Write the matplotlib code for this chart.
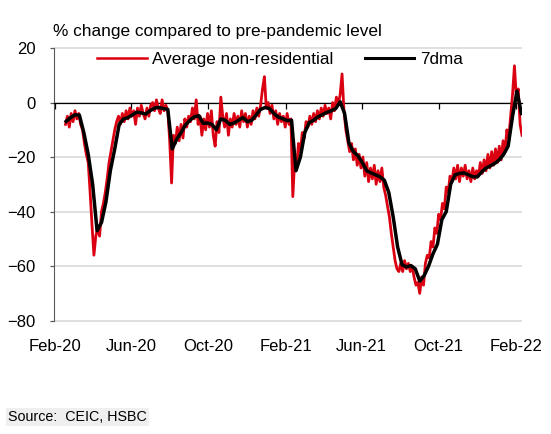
import numpy as np
import pandas as pd
import matplotlib
matplotlib.use("Agg")
import matplotlib.pyplot as plt
from matplotlib.lines import Line2D

plt.rcParams['font.family'] = ['Liberation Sans', 'DejaVu Sans']

# average non-residential mobility, sampled every 3 days from 18 Feb 2020
red = [
    -8, -5, -9, -4, -7, -3, -6, -4, -8, -10,
    -15, -19, -22, -33, -45, -56, -49, -46, -49, -40,
    -37, -33, -28, -22, -18, -14, -10, -7, -5, -8,
    -4, -7, -3, -6, -2, -5, -3, -8, -2, -5,
    -1, -4, -6, -2, -5, -1, 0, -3, 1, -2,
    -4, 1, -3, -1, -3, -14, -29.5, -12, -15, -9,
    -14, -8, -13, -6, -9, -5, -7, -2, -6, 1,
    -8, -5, -12, -6, -10, -4, -9, -3, -12, -16,
    -7, -11, 2, -5, -9, -4, -12, -6, -9, -4,
    -8, -5, -9, -3, -7, -4, -9, -5, -8, -3,
    -6, -2, -5, -1, 5, 9.5, -2, 0, -4, -1,
    -6, -3, -8, -4, -7, -5, -9, -4, -8, -6,
    -34.5, -21, -24, -15, -18, -11, -13, -7, -9, -5,
    -8, -4, -7, -3, -6, -2, -5, -1, -4, -2,
    -6, 0, -3, 2, -1, 3, 10.5, -3, -10, -14,
    -18, -15, -21, -17, -23, -19, -24, -20, -27, -22,
    -29, -24, -28, -23, -30, -25, -29, -24, -31, -34,
    -38, -42, -48, -53, -58, -61, -62, -59, -62, -58,
    -61, -59, -62, -60, -64, -67, -66, -70, -64, -67,
    -59, -56, -57, -51, -53, -46, -48, -41, -43, -37,
    -39, -31, -33, -27, -29, -24, -28, -23, -29, -24,
    -27, -23, -28, -25, -29, -24, -28, -25, -27, -22,
    -26, -21, -25, -19, -24, -18, -23, -17, -22, -16,
    -21, -14, -18, -10, -13, -5, 3, 13.5, 2, 5,
    -8, -12,
]

# 7-day moving average, weekly from 19 Feb 2020
dma = [
    -6.9, -5.5, -4.5, -4.6, -11, -19, -30, -47, -44, -36.5,
    -25, -17, -8, -6, -5.5, -4.5, -3.5, -3.8, -4.2, -3,
    -2, -1.8, -2.2, -2.5, -17, -13.5, -11, -8.2, -6.5, -5.2,
    -4.8, -7.6, -7.5, -8, -10, -6, -6.5, -8, -7.5, -6.5,
    -5.5, -7, -6.5, -4.5, -2.5, -1.8, -2.2, -4, -5.3, -5.9,
    -6.6, -6.5, -25, -20, -11, -7.3, -6.5, -5.2, -4.4, -3.6,
    -3, -2.2, 0.3, -4, -15, -18, -19.5, -22, -25, -25.8,
    -26.5, -27.2, -28.5, -33, -42, -53, -59.5, -60.3, -59.8, -61,
    -65.5, -63.5, -60, -55.5, -52, -43, -40, -30, -26.5, -26,
    -25.8, -26.5, -27.2, -27.3, -25.5, -24, -23.2, -22.3, -21, -19,
    -16, -5, 4.2, -4,
]

tick_dates = pd.to_datetime(['2020-02-01', '2020-06-01', '2020-10-01', '2021-02-01',
                             '2021-06-01', '2021-10-01', '2022-02-01'])
tick_labels = ['Feb-20', 'Jun-20', 'Oct-20', 'Feb-21', 'Jun-21', 'Oct-21', 'Feb-22']

red_dates = pd.date_range('2020-02-18', periods=len(red), freq='3D')
dma_dates = pd.date_range('2020-02-19', periods=len(dma), freq='7D')

RED = '#db0011'

fig = plt.figure(figsize=(5.51, 4.34), dpi=100)
ax = fig.add_axes([0.0971, 0.2581, 0.8503, 0.6343])

ax.plot(red_dates, red, color=RED, lw=2.0, zorder=3)
ax.plot(dma_dates, dma, color='black', lw=2.5, zorder=4)

ax.set_ylim(-80.5, 20.5)
ax.set_xlim(pd.Timestamp('2020-01-30'), pd.Timestamp('2022-02-10'))
ax.set_yticks([20, 0, -20, -40, -60, -80])
ax.set_xticks(tick_dates)
ax.set_xticklabels(tick_labels)

ax.yaxis.grid(True, color='#d9d9d9', lw=1.2)
ax.set_axisbelow(True)

for s in ['right', 'bottom']:
    ax.spines[s].set_visible(False)
ax.spines['left'].set_color('#595959')
ax.spines['left'].set_bounds(-80, 20)
ax.spines['top'].set_position(('data', 0))
ax.spines['top'].set_color('black')
ax.spines['top'].set_linewidth(0.9)
ax.spines['top'].set_zorder(2.6)

ax.tick_params(axis='x', top=True, bottom=False, labeltop=False, labelbottom=True,
               direction='in', length=4, width=0.9, color='black', pad=12, labelsize=12)
ax.tick_params(axis='y', direction='out', length=3, width=0.9, color='#595959',
               pad=10, labelsize=12)

handles = [Line2D([], [], color=RED, lw=1.8), Line2D([], [], color='black', lw=2.2)]
ax.legend(handles, ['Average non-residential', '7dma'], loc='center',
          bbox_to_anchor=(280 / 551, 1 - 59.6 / 434), bbox_transform=fig.transFigure,
          ncol=2, frameon=False, handlelength=2.9, handletextpad=0.35,
          columnspacing=1.8, fontsize=12.3)

fig.text(0.0955, 0.917, '% change compared to pre-pandemic level', fontsize=12.4, va='baseline')
fig.text(8 / 551, 1 - 421 / 434, 'Source:  CEIC, HSBC', fontsize=10.3, va='baseline',
         bbox=dict(facecolor='#efefef', edgecolor='none', pad=1.5))

fig.savefig('out.png', dpi=100)
